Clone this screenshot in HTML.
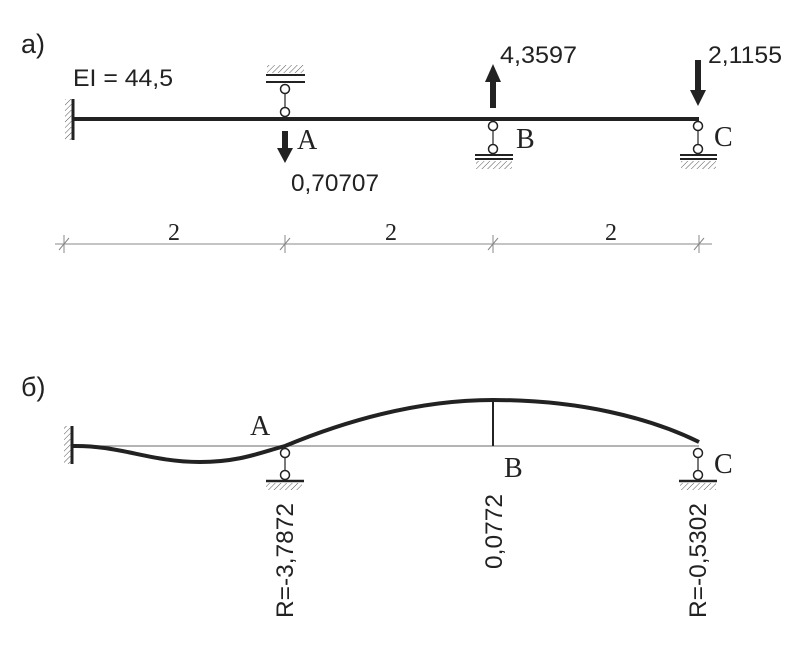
<!DOCTYPE html>
<html><head><meta charset="utf-8"><style>
html,body{margin:0;padding:0;background:#fff}
svg{display:block}
.s{font-family:"Liberation Sans",sans-serif;fill:#222}
.r{font-family:"Liberation Serif",serif;fill:#222}
</style></head><body>
<svg width="806" height="650" viewBox="0 0 806 650" xmlns="http://www.w3.org/2000/svg">
<defs>
<pattern id="h" width="4" height="4" patternUnits="userSpaceOnUse" patternTransform="rotate(45)">
<line x1="0" y1="0" x2="0" y2="4" stroke="#555" stroke-width="1"/>
</pattern>
</defs>
<g stroke="#222" fill="none">
<!-- part a -->
<text x="21" y="53" class="s" font-size="27" stroke="none">а)</text>
<text x="73" y="86" class="s" font-size="24" stroke="none" textLength="100" lengthAdjust="spacingAndGlyphs">EI = 44,5</text>
<line x1="72" y1="119" x2="699" y2="119" stroke-width="4"/>
<line x1="73" y1="99" x2="73" y2="140" stroke-width="3"/>
<rect x="65" y="99" width="7" height="41" fill="url(#h)" stroke="none"/>
<!-- A support (top) -->
<rect x="267" y="65" width="37" height="8" fill="url(#h)" stroke="none"/>
<line x1="266" y1="75" x2="305" y2="75" stroke-width="2"/>
<line x1="266" y1="82" x2="305" y2="82" stroke-width="2"/>
<circle cx="285" cy="89" r="4.5" fill="#fff" stroke-width="1.5"/>
<line x1="285" y1="93" x2="285" y2="108" stroke-width="1.2"/>
<circle cx="285" cy="112" r="4.5" fill="#fff" stroke-width="1.5"/>
<line x1="285" y1="131" x2="285" y2="150" stroke-width="6"/>
<polygon points="277,148 293,148 285,163" fill="#222" stroke="none"/>
<text x="297" y="149" class="r" font-size="28" stroke="none">A</text>
<text x="291" y="191" class="s" font-size="24" stroke="none" textLength="88" lengthAdjust="spacingAndGlyphs">0,70707</text>
<!-- B support -->
<circle cx="493" cy="126" r="4.5" fill="#fff" stroke-width="1.5"/>
<line x1="493" y1="130" x2="493" y2="145" stroke-width="1.2"/>
<circle cx="493" cy="149" r="4.5" fill="#fff" stroke-width="1.5"/>
<line x1="475" y1="155" x2="513" y2="155" stroke-width="2"/>
<line x1="475" y1="159" x2="513" y2="159" stroke-width="2"/>
<rect x="476" y="161" width="36" height="8" fill="url(#h)" stroke="none"/>
<line x1="493" y1="108" x2="493" y2="80" stroke-width="6"/>
<polygon points="485,82 501,82 493,64" fill="#222" stroke="none"/>
<text x="516" y="148" class="r" font-size="28" stroke="none">B</text>
<text x="500" y="63" class="s" font-size="24" stroke="none" textLength="77" lengthAdjust="spacingAndGlyphs">4,3597</text>
<!-- C support -->
<circle cx="698" cy="126" r="4.5" fill="#fff" stroke-width="1.5"/>
<line x1="698" y1="130" x2="698" y2="145" stroke-width="1.2"/>
<circle cx="698" cy="149" r="4.5" fill="#fff" stroke-width="1.5"/>
<line x1="680" y1="155" x2="717" y2="155" stroke-width="2"/>
<line x1="680" y1="159" x2="717" y2="159" stroke-width="2"/>
<rect x="681" y="161" width="35" height="8" fill="url(#h)" stroke="none"/>
<line x1="698" y1="60" x2="698" y2="92" stroke-width="6"/>
<polygon points="690,90 706,90 698,106" fill="#222" stroke="none"/>
<text x="714" y="146" class="r" font-size="28" stroke="none">C</text>
<text x="708" y="63" class="s" font-size="24" stroke="none" textLength="74" lengthAdjust="spacingAndGlyphs">2,1155</text>
<!-- dimensions -->
<line x1="55" y1="244" x2="712" y2="244" stroke="#888" stroke-width="1"/>
<g stroke="#888" stroke-width="1">
<line x1="64" y1="235" x2="64" y2="253"/><line x1="59" y1="250" x2="69" y2="238"/>
<line x1="285" y1="235" x2="285" y2="253"/><line x1="280" y1="250" x2="290" y2="238"/>
<line x1="493" y1="235" x2="493" y2="253"/><line x1="488" y1="250" x2="498" y2="238"/>
<line x1="699" y1="235" x2="699" y2="253"/><line x1="694" y1="250" x2="704" y2="238"/>
</g>
<text x="168" y="240" class="r" font-size="24" stroke="none">2</text>
<text x="385" y="240" class="r" font-size="24" stroke="none">2</text>
<text x="605" y="240" class="r" font-size="24" stroke="none">2</text>
<!-- part b -->
<text x="21" y="396" class="s" font-size="27" stroke="none">б)</text>
<line x1="72" y1="446" x2="699" y2="446" stroke="#888" stroke-width="1.2"/>
<line x1="72" y1="426" x2="72" y2="464" stroke-width="3"/>
<rect x="64" y="426" width="7" height="38" fill="url(#h)" stroke="none"/>
<path d="M72,446 C120,445 150,462 200,462 C240,462 262,452 285,446 C360,415 430,400 493,400 C580,400 650,418 699,442" stroke-width="4"/>
<line x1="493" y1="400" x2="493" y2="446" stroke-width="2"/>
<text x="250" y="435" class="r" font-size="28" stroke="none">A</text>
<text x="504" y="477" class="r" font-size="28" stroke="none">B</text>
<text x="714" y="473" class="r" font-size="28" stroke="none">C</text>
<!-- supports b -->
<circle cx="285" cy="453" r="4.5" fill="#fff" stroke-width="1.5"/>
<line x1="285" y1="457" x2="285" y2="471" stroke-width="1.2"/>
<circle cx="285" cy="475" r="4.5" fill="#fff" stroke-width="1.5"/>
<line x1="266" y1="481" x2="304" y2="481" stroke-width="2.5"/>
<rect x="266" y="483" width="36" height="7" fill="url(#h)" stroke="none"/>
<circle cx="698" cy="453" r="4.5" fill="#fff" stroke-width="1.5"/>
<line x1="698" y1="457" x2="698" y2="471" stroke-width="1.2"/>
<circle cx="698" cy="475" r="4.5" fill="#fff" stroke-width="1.5"/>
<line x1="679" y1="481" x2="717" y2="481" stroke-width="2.5"/>
<rect x="680" y="483" width="36" height="7" fill="url(#h)" stroke="none"/>
<text transform="translate(293,618) rotate(-90)" class="s" font-size="24" stroke="none" textLength="115" lengthAdjust="spacingAndGlyphs">R=-3,7872</text>
<text transform="translate(502,569) rotate(-90)" class="s" font-size="24" stroke="none" textLength="75" lengthAdjust="spacingAndGlyphs">0,0772</text>
<text transform="translate(706,618) rotate(-90)" class="s" font-size="24" stroke="none" textLength="115" lengthAdjust="spacingAndGlyphs">R=-0,5302</text>
</g>
</svg>
</body></html>
